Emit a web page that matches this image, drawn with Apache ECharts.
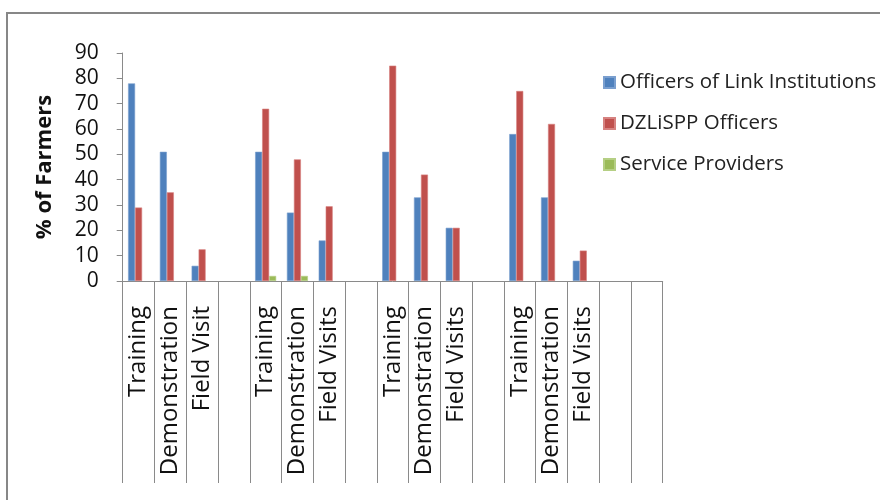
<!DOCTYPE html>
<html>
<head>
<meta charset="utf-8">
<script src="https://cdn.jsdelivr.net/npm/echarts@6/dist/echarts.min.js"></script>
<style>
html,body{margin:0;padding:0;background:#fff;}
#chart{width:880px;height:500px;}
</style>
</head>
<body>
<div id="chart"></div>
<script>
const categories = ["Training","Demonstration","Field Visit","",
  "Training","Demonstration","Field Visits","",
  "Training","Demonstration","Field Visits","",
  "Training","Demonstration","Field Visits","",""];
const seriesNames = ["Officers of Link Institutions","DZLiSPP Officers","Service Providers"];
const linkOfficers = [78,51,6,null, 51,27,16,null, 51,33,21,null, 58,33,8,null,null];
const dzlisppOfficers = [29,35,12.5,null, 68,48,29.5,null, 85,42,21,null, 75,62,12,null,null];
const serviceProviders = [null,null,null,null, 2,2,null,null, null,null,null,null, null,null,null,null,null];
const yTicks = [0,10,20,30,40,50,60,70,80,90];

const colors = ["#4F81BD","#C0504D","#9BBB59"];
const borders = ["#7A9FCF","#D68280","#B5CF84"];
const font = "'Open Sans', 'DejaVu Sans', sans-serif";

const chart = echarts.init(document.getElementById('chart'));
const dataSets = [linkOfficers, dzlisppOfficers, serviceProviders];
chart.setOption({
  animation:false,
  backgroundColor:'#fff',
  textStyle:{fontFamily:font},
  graphic:[{type:'rect',shape:{x:7,y:13,width:900,height:520},style:{fill:'none',stroke:'#878787',lineWidth:2},z:-1}],
  legend:{
    orient:'vertical', left:598, top:67, itemGap:20,
    itemWidth:11, itemHeight:11, icon:'rect',
    textStyle:{fontFamily:font,fontSize:20.5,color:'#222'},
    data:seriesNames
  },
  grid:{left:122.7,right:217.3,top:53,bottom:219},
  xAxis:{
    type:'category', data:categories,
    axisLine:{lineStyle:{color:'#8a8a8a',width:1}},
    axisTick:{show:true,interval:0,length:202,lineStyle:{color:'#8a8a8a'}},
    axisLabel:{interval:0,rotate:90,margin:25,fontSize:24,color:'#111',fontFamily:font}
  },
  yAxis:{
    type:'value', min:yTicks[0], max:yTicks[yTicks.length-1], interval:10,
    name:'% of Farmers', nameLocation:'middle', nameGap:67,
    nameTextStyle:{fontSize:22,fontWeight:'bold',color:'#111',fontFamily:font},
    axisLine:{show:true,lineStyle:{color:'#8a8a8a'}},
    axisTick:{show:true,length:6,lineStyle:{color:'#8a8a8a'}},
    splitLine:{show:false},
    axisLabel:{margin:24,fontSize:21,color:'#111',fontFamily:font}
  },
  series: seriesNames.map((n,i)=>({
    name:n, type:'bar', data:dataSets[i], barWidth:7, barGap:'0%',
    itemStyle:{color:colors[i],borderColor:borders[i],borderWidth:0.6}
  }))
});
</script>
</body>
</html>
